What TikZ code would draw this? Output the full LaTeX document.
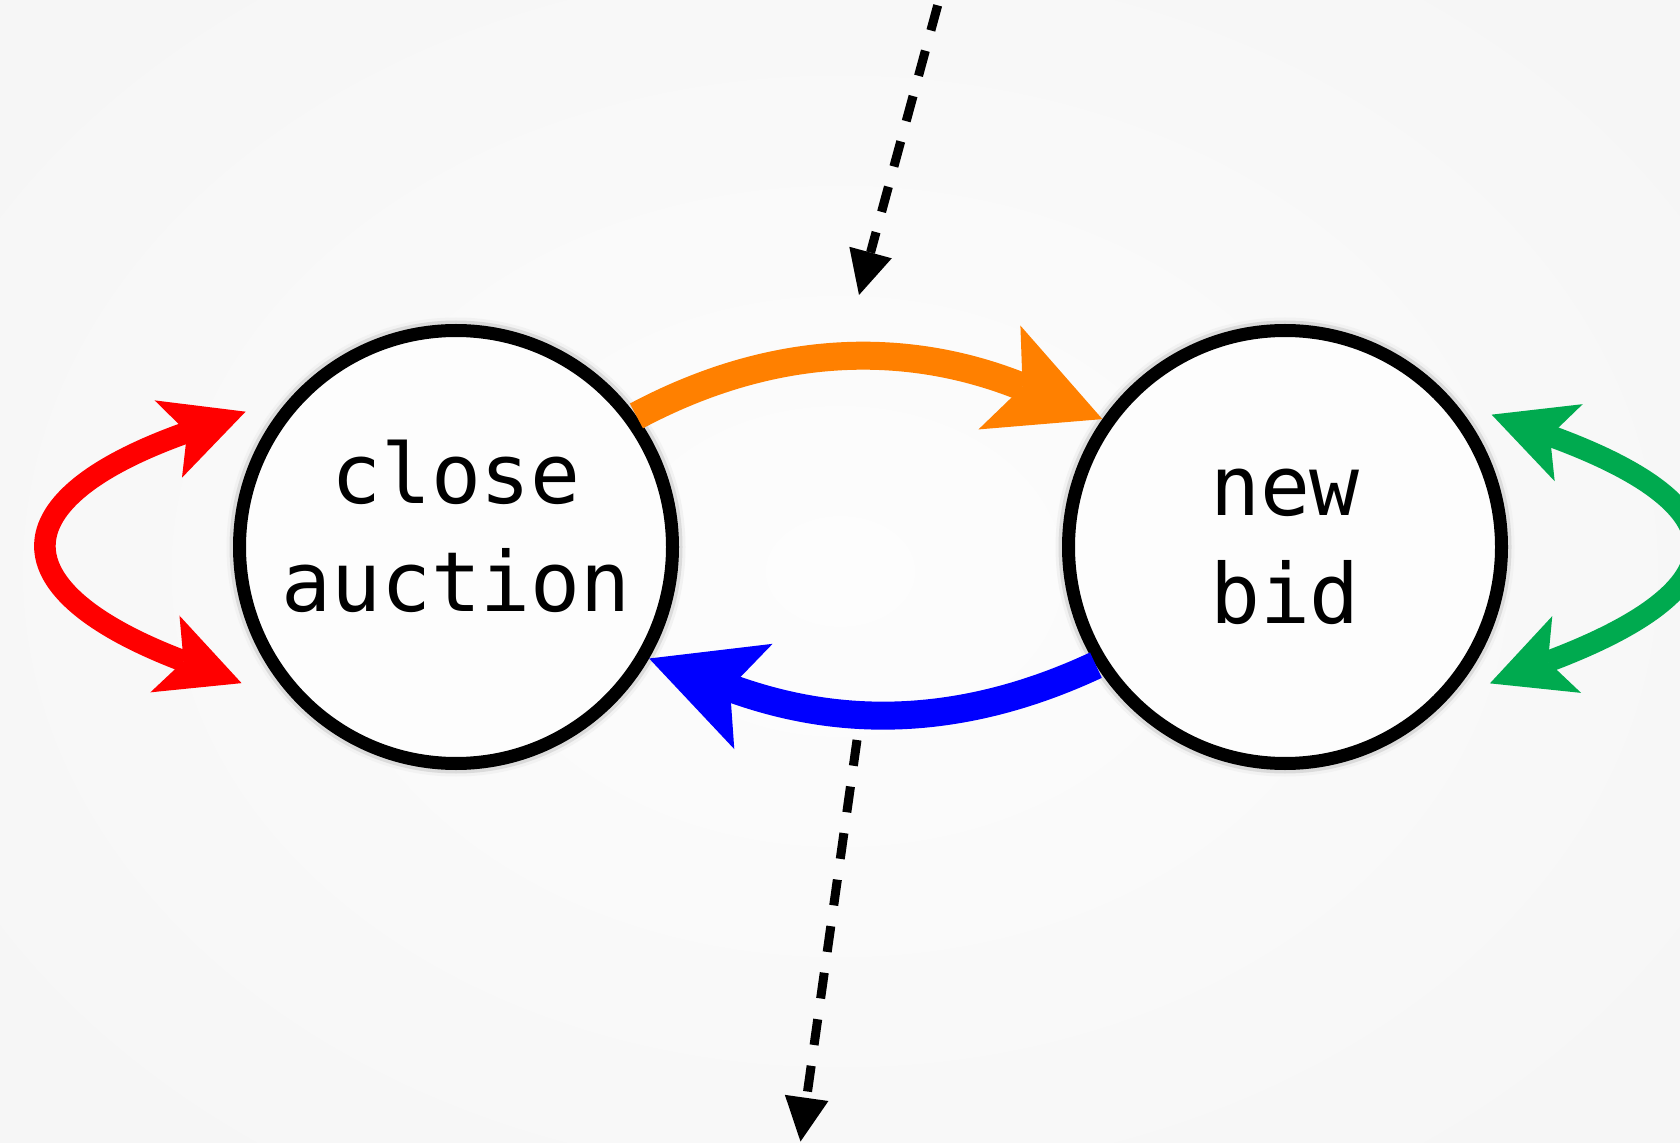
\documentclass[tikz,border=0pt]{standalone}
\usepackage{fontspec}
\setmonofont{DejaVu Sans Mono}
\usetikzlibrary{arrows.meta}
\definecolor{bgout}{RGB}{246,246,246}
\definecolor{bgin}{RGB}{253,253,253}
\definecolor{nodefill}{RGB}{253,253,253}
\definecolor{arrorange}{RGB}{255,128,0}
\definecolor{arrred}{RGB}{255,0,0}
\definecolor{arrblue}{RGB}{0,0,255}
\definecolor{arrgreen}{RGB}{0,170,79}
\begin{document}
\begin{tikzpicture}[x=0.5pt,y=0.5pt,
  state/.style={circle, draw=black, line width=6.5pt, fill=nodefill,
    minimum size=216.5pt, inner sep=0pt, align=center,
    font=\ttfamily\fontsize{41.5}{54}\selectfont,
    preaction={draw=black!5, line width=13pt},
    preaction={draw=black!14, line width=10pt}},
  bigarrow/.style={line width=14pt,
    -{Stealth[length=55.5pt,width=56pt,inset=12.5pt,line width=0pt]}},
  loopar/.style={line width=10.8pt,
    {Stealth[length=41pt,width=41pt,inset=10pt,line width=0pt]}-{Stealth[length=41pt,width=41pt,inset=10pt,line width=0pt]}},
  dasharrow/.style={line width=4.5pt, dash pattern=on 13pt off 10.5pt,
    -{Triangle[length=22pt,width=22pt,line width=0pt]}}
]
\useasboundingbox (0,0) rectangle (1680,1142);
\clip (0,0) rectangle (1680,1142);
\shade[inner color=bgin, outer color=bgout] (-200,-200) rectangle (1880,1342);

\node[state, text depth=21pt] (L) at (456,595) {close\\auction};
\node[state] (R) at (1285,595) {new\\bid};

\coordinate (din) at (950,1182);
\coordinate (dtip) at (859,847);
\coordinate (dout) at (857,402);
\coordinate (dend) at (800.5,0.5);

\draw[bigarrow, draw=arrorange] (L.36.3) to[out=28, in=158] (R.145.1);
\draw[bigarrow, draw=arrblue] (R.212) to[out=205, in=340] (L.-30.8);

\draw[loopar, draw=arrred, shorten <=25.1pt, shorten >=30.35pt]
  (L.137.7) .. controls +(199.5:156pt) and +(159.2:161pt) .. (L.225);
\draw[loopar, draw=arrgreen, shorten <=20.4pt, shorten >=22.35pt]
  (R.41.9) .. controls +(340:155pt) and +(20.6:157pt) .. (R.-43);

\draw[dasharrow] (din) -- (dtip);
\draw[dasharrow] (dout) -- (dend);
\end{tikzpicture}
\end{document}
